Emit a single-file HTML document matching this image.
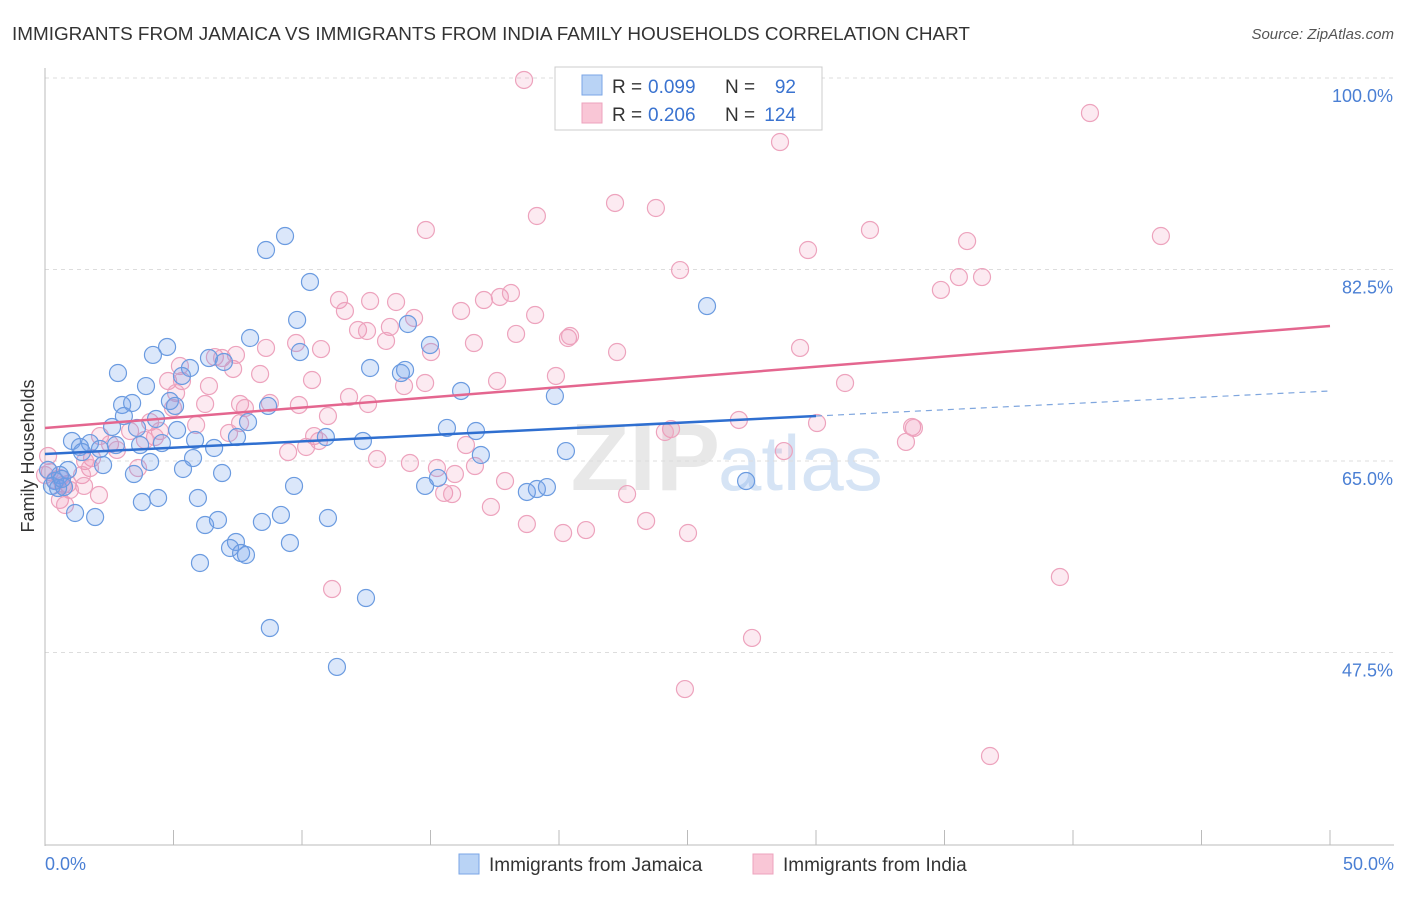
<!DOCTYPE html>
<html><head><meta charset="utf-8"><style>
body{margin:0;background:#fff;font-family:"Liberation Sans",sans-serif}
svg text{font-family:"Liberation Sans",sans-serif}
</style></head><body>
<svg id="chart" width="1406" height="892" viewBox="0 0 1406 892">
<text x="12" y="40" font-size="18.9" fill="#333">IMMIGRANTS FROM JAMAICA VS IMMIGRANTS FROM INDIA FAMILY HOUSEHOLDS CORRELATION CHART</text>
<text x="1394" y="39" font-size="15" fill="#555" font-style="italic" text-anchor="end">Source: ZipAtlas.com</text>
<text x="720" y="490" font-size="96" fill="#e8e8e8" text-anchor="end" font-family="Liberation Serif" font-weight="bold">ZIP</text>
<text x="718" y="490" font-size="78" fill="#d6e4f5">atlas</text>
<g id="grid"></g><g id="axes"></g>
<g id="pts"></g><g id="lines"></g>
<text transform="translate(34,456) rotate(-90)" font-size="18" fill="#333" text-anchor="middle">Family Households</text>
<text x="45" y="870" font-size="18" fill="#4a7fd4">0.0%</text>
<text x="1394" y="870" font-size="18" fill="#4a7fd4" text-anchor="end">50.0%</text>
<g>
<rect x="555" y="67" width="267" height="63" fill="#fff" stroke="#ccc"/>
<rect x="582" y="75" width="20" height="20" fill="#b9d3f5" stroke="#7aa6e6"/>
<rect x="582" y="103" width="20" height="20" fill="#f9c6d6" stroke="#eda3bd"/>
<text x="612" y="93" font-size="19" fill="#333">R =</text>
<text x="648" y="93" font-size="19" fill="#3a73d0">0.099</text>
<text x="725" y="93" font-size="19" fill="#333">N =</text>
<text x="796" y="93" font-size="19" fill="#3a73d0" text-anchor="end">92</text>
<text x="612" y="121" font-size="19" fill="#333">R =</text>
<text x="648" y="121" font-size="19" fill="#3a73d0">0.206</text>
<text x="725" y="121" font-size="19" fill="#333">N =</text>
<text x="796" y="121" font-size="19" fill="#3a73d0" text-anchor="end">124</text>
</g>
<g>
<rect x="459" y="854" width="20" height="20" fill="#b9d3f5" stroke="#7aa6e6"/>
<text x="489" y="871" font-size="19" fill="#333">Immigrants from Jamaica</text>
<rect x="753" y="854" width="20" height="20" fill="#f9c6d6" stroke="#eda3bd"/>
<text x="783" y="871" font-size="19" fill="#333">Immigrants from India</text>
</g>
</svg>
<script>
const yTicks=[100,82.5,65,47.5];
const blueX=[9.34,8.60,10.31,25.76,9.81,14.12,7.98,4.75,4.20,9.92,14.98,2.84,5.64,6.38,6.96,12.65,14.01,13.85,5.33,3.93,16.19,19.84,3.00,3.39,4.86,5.06,4.32,3.07,2.61,3.58,5.14,7.90,8.68,7.47,5.84,4.55,3.70,1.05,1.36,1.75,2.14,1.44,2.76,6.58,15.64,16.77,12.37,10.93,16.96,20.27,4.09,5.76,2.26,0.89,0.58,5.37,3.46,6.89,0.39,0.27,0.51,0.74,1.17,1.95,3.77,4.40,5.95,9.69,14.79,15.29,18.75,19.14,19.53,27.28,6.23,6.73,8.44,9.18,11.01,7.43,7.20,7.63,7.82,9.53,6.03,12.49,8.75,11.36,0.66,0.12];
const blueY=[85.56,84.28,81.36,79.16,77.89,77.52,76.24,75.42,74.69,74.96,75.60,73.04,73.50,74.41,74.05,73.50,73.32,73.04,72.77,71.85,71.40,70.94,70.12,70.30,70.48,70.03,68.84,69.11,68.11,68.02,67.83,68.56,70.03,67.19,66.92,66.64,66.46,66.83,66.28,66.64,66.10,65.82,66.46,66.19,68.02,67.74,66.83,67.19,65.55,65.91,64.91,65.27,64.63,64.18,63.72,64.27,63.81,63.90,63.17,62.72,62.53,62.62,60.25,59.88,61.25,61.62,61.62,62.72,62.72,63.45,62.17,62.44,62.62,63.17,59.15,59.61,59.43,60.07,59.79,57.60,57.05,56.59,56.41,57.51,55.68,52.48,49.74,46.18,63.36,64.18];
const pinkX=[18.64,40.66,28.60,22.18,23.77,19.14,14.82,32.10,29.69,35.88,43.42,24.71,34.86,35.56,36.46,11.44,12.65,13.66,11.67,16.19,17.08,17.70,18.13,19.07,14.36,12.18,12.53,13.42,13.27,18.33,20.35,20.43,16.69,15.02,22.26,29.38,9.77,10.74,8.60,6.61,6.89,7.32,8.37,7.43,5.25,4.79,5.33,6.38,10.39,14.79,13.97,17.59,19.88,31.13,11.83,12.57,9.88,11.01,8.75,7.59,7.59,7.78,6.23,5.10,4.98,5.88,4.09,4.47,4.28,3.89,3.31,2.14,2.53,2.80,1.83,1.56,1.75,1.44,0.89,0.97,0.58,0.19,0.39,0.58,1.52,2.10,3.62,0.78,7.16,10.47,10.66,10.16,9.46,16.38,24.36,24.12,27.00,30.04,33.74,33.81,33.50,28.75,12.92,14.20,15.25,15.95,16.73,17.90,15.53,15.84,22.65,17.35,18.75,20.16,21.05,23.39,25.02,39.49,11.17,27.51,24.90,36.77,0.70,0.12,0.00];
const pinkY=[99.82,96.80,94.15,88.58,88.12,87.39,86.11,86.11,84.28,85.10,85.56,82.45,80.63,81.81,81.81,79.71,79.62,79.53,78.71,78.71,79.71,79.99,80.35,78.34,78.07,76.97,76.88,77.25,75.97,76.61,76.24,76.42,75.78,74.96,74.96,75.33,75.78,75.23,75.33,74.50,74.41,73.41,72.95,74.69,73.68,72.31,72.31,71.85,72.40,72.13,71.85,72.31,72.77,72.13,70.85,70.21,70.12,69.11,70.30,70.21,68.47,69.84,70.21,71.21,69.84,68.29,68.56,67.74,67.19,66.92,67.74,67.28,66.55,66.01,65.27,65.00,64.36,63.72,62.90,62.35,63.45,63.99,63.26,61.44,62.72,61.89,64.36,60.98,67.56,67.28,66.83,66.28,65.82,66.46,67.92,67.65,68.75,68.47,68.11,68.02,66.74,65.91,65.18,64.82,64.36,63.81,64.54,63.17,62.08,61.98,61.98,60.80,59.24,58.42,58.69,59.52,58.42,54.40,53.30,48.83,44.16,38.04,62.81,65.46,63.72];
const blueTrend=[[0,65.64],[30,69.11]];
const blueDash=[[30,69.11],[50,71.40]];
const pinkTrend=[[0,68.02],[50,77.34]];
const NS="http://www.w3.org/2000/svg";
const X=v=>45+v*25.7, Y=v=>461-(v-65)*10.943;
function mk(tag,attrs,parent){const e=document.createElementNS(NS,tag);for(const k in attrs)e.setAttribute(k,attrs[k]);parent.appendChild(e);return e;}
const grid=document.getElementById('grid'),axes=document.getElementById('axes'),pts=document.getElementById('pts'),lines=document.getElementById('lines');
yTicks.forEach(t=>{
 const l=mk('line',{x1:45,x2:1394,y1:Y(t),y2:Y(t),stroke:'#ddd','stroke-dasharray':'4,4'},grid);
 
 
 const tx=mk('text',{x:1393,y:Y(t)+24,'font-size':18,fill:'#4a7fd4','text-anchor':'end'},grid);
 tx.textContent=(t===100?'100.0':t.toFixed(1))+'%';
 
 
});
mk('line',{x1:45,x2:45,y1:68,y2:846,stroke:'#bbb'},axes);
mk('line',{x1:45,x2:1394,y1:845,y2:845,stroke:'#bbb'},axes);
for(let i=0;i<=10;i++){const t=mk('line',{x1:X(i*5),x2:X(i*5),y1:830,y2:845,stroke:'#bbb'},axes);
 
 }
function dots(xs,ys,fill,stroke,name){xs.forEach((x,i)=>{const c=mk('circle',{cx:X(x),cy:Y(ys[i]),r:8.5,fill:fill,stroke:stroke,'stroke-width':1.2},pts);
 
 });}
dots(pinkX,pinkY,'rgba(240,140,175,0.18)','#eda3bd','india-point');
dots(blueX,blueY,'rgba(110,160,235,0.25)','#6b9be0','jamaica-point');
function ln(p,col,w,dash,name){const l=mk('line',{x1:X(p[0][0]),y1:Y(p[0][1]),x2:X(p[1][0]),y2:Y(p[1][1]),stroke:col,'stroke-width':w},lines);if(dash)l.setAttribute('stroke-dasharray',dash);
 
 }
ln(pinkTrend,'#e4668f',2.5,null,'india-trendline');
ln(blueTrend,'#2f6fd0',2.5,null,'jamaica-trendline');
ln(blueDash,'#7fa6de',1.2,'6,5','jamaica-trendline-extension');
</script>
</body></html>
